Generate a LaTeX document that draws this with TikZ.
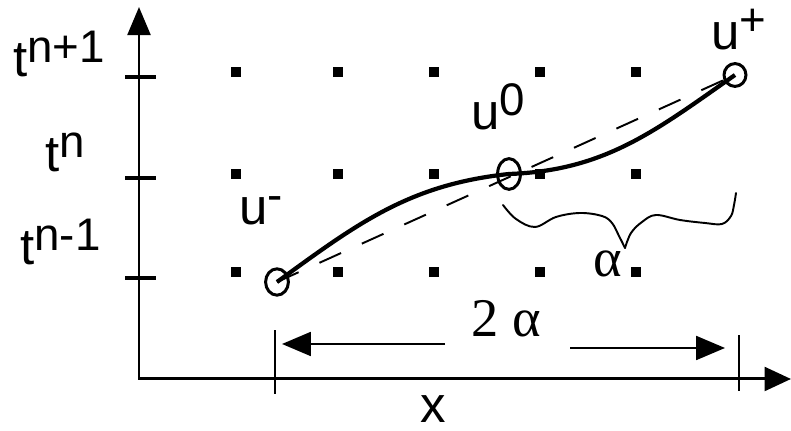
\documentclass[tikz,border=0pt]{standalone}
\usepackage{fontspec}
\setmainfont{Liberation Sans}
\newfontfamily\timesfont{Liberation Serif}
\usetikzlibrary{arrows.meta, shapes.geometric}

% raised superscript, nearly full size
\newcommand{\up}[1]{\raisebox{8pt}{\fontsize{26}{28}\selectfont #1}}

\begin{document}
\begin{tikzpicture}[
  x=0.02cm, y=0.02cm,
  every node/.style={font=\fontsize{29}{31}\selectfont, inner sep=0pt},
  axisline/.style={line width=1.7pt,
    {Triangle[length=16pt, width=13pt]}-{Triangle[length=15pt, width=13.5pt]}},
  tmark/.style={line width=2.1pt},
  xmark/.style={line width=1.2pt},
  gridpt/.style={fill=black, minimum width=5.4pt, minimum height=6.2pt},
  sample/.style={ellipse, draw, line width=1.7pt, minimum width=13pt, minimum height=15pt},
  soln/.style={line width=2.4pt},
  chord/.style={dash pattern=on 13.5pt off 13pt, line width=1.1pt},
  brace/.style={line width=1.1pt, line join=round, line cap=round},
  dimarrow/.style={line width=1.2pt, -{Triangle[length=16.4pt, width=13.6pt]}},
  greek/.style={font=\timesfont\fontsize{31}{33}\selectfont}
]
  \useasboundingbox (0,0) rectangle (791,431);

  % axes
  \coordinate (orig) at (139,52);
  \coordinate (ytip) at (139,424);
  \coordinate (xtip) at (791,52);
  \draw[axisline] (ytip) -- (orig) -- (xtip);
  \node[anchor=base] (xlab) at (433,8) {x};

  % time levels
  \foreach \ty in {354, 253, 153} {
    \draw[tmark] (125,\ty) -- (156,\ty);
  }
  \node[anchor=base west] (tnp) at (13,354) {t\up{n+1}};
  \node[anchor=base west] (tn) at (45,259) {t\up{n}};
  \node[anchor=base west] (tnm) at (20,166) {t\up{n-1}};

  % grid points
  \foreach \gx in {236,338,434,540,636}
    \foreach \gy in {159,257,359}
      \node[gridpt] (g-\gx-\gy) at (\gx,\gy) {};

  % the three samples
  \node[sample] (um) at (277,149) {};
  \node[sample, minimum height=17.5pt] (u0) at (509,257) {};
  \node[sample, minimum width=12.5pt, minimum height=13pt] (upl) at (735,356) {};
  \node[anchor=base west] (umlab) at (239,206) {u\up{-}};
  \node[anchor=base west] (u0lab) at (471,301) {u\up{0}};
  \node[anchor=base west] (upllab) at (711,381) {u\up{+}};

  \draw[chord] (um.center) -- (upl.center);
  \draw[soln] (um.center) to[out=36, in=186] (u0.center)
    to[out=2, in=215] (upl.center);

  % brace and alpha
  \draw[brace] plot[smooth, tension=0.6] coordinates {(503,226) (516,212) (535,204) (556,214) (580,218) (602,215) (612,208) (619,195) (625,183)};
  \draw[brace] plot[smooth, tension=0.6] coordinates {(625,183) (631,198) (642,209) (656,216) (680,211) (705,208) (722,207) (731,215) (734,226) (736,238)};
  \node[greek, anchor=base] (alab) at (608,154) {α};

  % 2 alpha span
  \draw[xmark] (275,37) -- (275,101);
  \draw[xmark] (739,40) -- (739,96);
  \node[greek, anchor=base] (twoa) at (506,94) {2 α};
  \coordinate (la) at (445,87);
  \coordinate (lb) at (282,87);
  \coordinate (ra) at (570,83);
  \coordinate (rb) at (725,83);
  \draw[dimarrow] (la) -- (lb);
  \draw[dimarrow] (ra) -- (rb);

\end{tikzpicture}
\end{document}
